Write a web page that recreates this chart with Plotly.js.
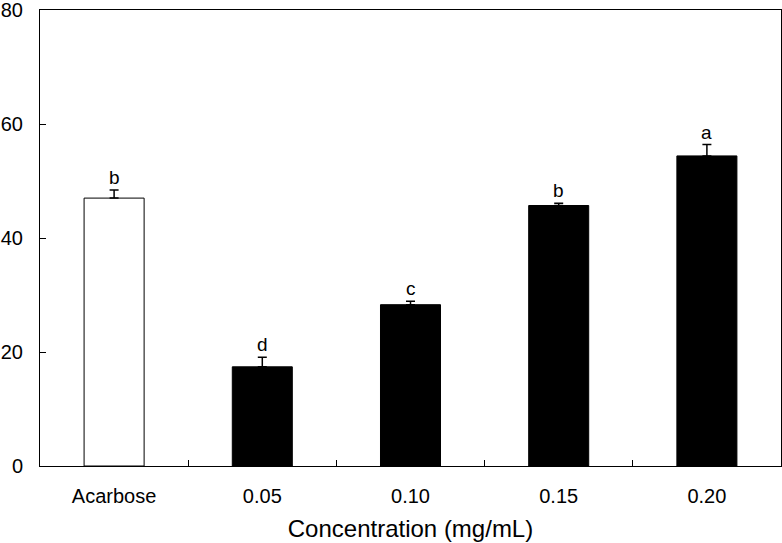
<!DOCTYPE html>
<html>
<head>
<meta charset="utf-8">
<script src="https://cdn.plot.ly/plotly-3.0.1.min.js"></script>
<style>html,body{margin:0;padding:0;background:#fff;}#chart{width:782px;height:543px;}</style>
</head>
<body>
<div id="chart"></div>
<script>
const categories = ["Acarbose", "0.05", "0.10", "0.15", "0.20"];
const values = [47.0, 17.4, 28.3, 45.7, 54.4];
const errors = [1.4, 1.7, 0.6, 0.4, 2.0];
const letters = ["b", "d", "c", "b", "a"];
const yTicks = [0, 20, 40, 60, 80];

const trace = {
  type: "bar",
  x: categories,
  y: values,
  marker: {
    color: categories.map((c, i) => i === 0 ? "#ffffff" : "#000000"),
    line: {color: "#000000", width: 1}
  },
  error_y: {
    type: "data",
    symmetric: false,
    array: errors,
    arrayminus: errors.map(() => 0),
    color: "#000000",
    thickness: 1.5,
    width: 4.5
  },
  hoverinfo: "none"
};

const annotations = categories.map((c, i) => ({
  x: i,
  y: values[i] + errors[i],
  xref: "x",
  yref: "y",
  text: letters[i],
  showarrow: false,
  yanchor: "bottom",
  font: {family: "Liberation Sans, Arial, sans-serif", size: 19, color: "#000"}
}));

const layout = {
  width: 782,
  height: 543,
  margin: {l: 40, r: 1, t: 10, b: 77},
  paper_bgcolor: "#ffffff",
  plot_bgcolor: "#ffffff",
  showlegend: false,
  bargap: 0.595,
  font: {family: "Liberation Sans, Arial, sans-serif", color: "#000", size: 20},
  xaxis: {
    type: "category",
    range: [-0.5, 4.5],
    showline: true,
    mirror: true,
    linecolor: "#000",
    linewidth: 1,
    ticks: "inside",
    tickson: "boundaries",
    ticklen: 6,
    tickcolor: "#000",
    showgrid: false,
    zeroline: false,
    tickfont: {size: 20},
    ticklabelstandoff: 12,
    title: {text: "Concentration (mg/mL)", font: {size: 24}, standoff: 14}
  },
  yaxis: {
    range: [0, 80],
    tickvals: yTicks,
    ticktext: yTicks.map(String),
    showline: true,
    mirror: true,
    linecolor: "#000",
    linewidth: 1,
    ticks: "inside",
    ticklen: 6,
    tickcolor: "#000",
    showgrid: false,
    zeroline: false,
    tickfont: {size: 20},
    ticklabelstandoff: 12,
    ticklabeloverflow: "allow"
  },
  annotations: annotations
};

Plotly.newPlot("chart", [trace], layout, {staticPlot: true, displayModeBar: false});
</script>
</body>
</html>
